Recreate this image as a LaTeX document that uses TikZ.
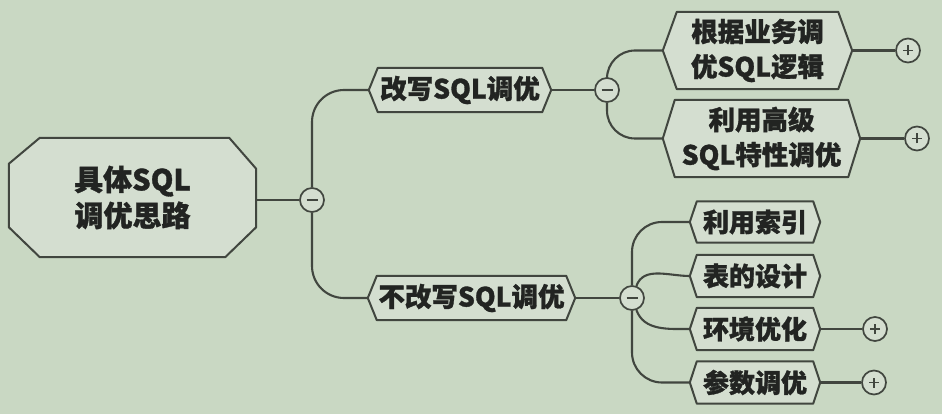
\documentclass[tikz,border=0pt]{standalone}
\usepackage{fontspec}
\newfontfamily\cjk{Noto Sans CJK SC}[BoldFeatures={FakeBold=1.2}]
\usetikzlibrary{backgrounds}
\definecolor{bg}{HTML}{C9D8C3}
\definecolor{nodefill}{HTML}{D4DED0}
\definecolor{ink}{HTML}{41463F}
\definecolor{txt}{HTML}{222422}
\begin{document}
\begin{tikzpicture}[x=1pt,y=-1pt,
  box/.style={draw=none, inner sep=0pt, align=center, text=txt,
    font=\cjk\bfseries\fontsize{26.5}{35}\selectfont},
  smallbox/.style={box, font=\cjk\bfseries\fontsize{26}{35}\selectfont},
  rootbox/.style={box, font=\cjk\bfseries\fontsize{29}{36}\selectfont},
  outline/.style={draw=ink, fill=nodefill, line width=2pt, line join=round},
  conn/.style={draw=ink, line width=2.1pt},
  toggle/.style={circle, draw=ink, line width=1.7pt, fill=nodefill, minimum size=24pt, inner sep=0pt},
  minusbtn/.style={toggle, path picture={\draw[ink, line width=2pt]
      ([xshift=-5.5pt]path picture bounding box.center) -- ([xshift=5.5pt]path picture bounding box.center);}},
  plusbtn/.style={toggle, path picture={\draw[ink, line width=1.6pt]
      ([xshift=-5pt]path picture bounding box.center) -- ([xshift=5pt]path picture bounding box.center)
      ([yshift=-5pt]path picture bounding box.center) -- ([yshift=5pt]path picture bounding box.center);}}
]
\useasboundingbox (0,0) rectangle (942,414);

% nodes (text)
\node[rootbox, minimum width=247pt, minimum height=119pt] (root) at (132.5,197.5) {具体SQL\\调优思路};
\node[box, minimum width=182pt, minimum height=44pt] (n1) at (460,90) {改写SQL调优};
\node[box, minimum width=207pt, minimum height=44pt] (n2) at (471.5,298) {不改写SQL调优};
\node[box, minimum width=189pt, minimum height=77pt] (n11) at (757.5,50.5) {根据业务调\\优SQL逻辑};
\node[box, minimum width=197pt, minimum height=77pt] (n12) at (761.5,138.5) {利用高级\\SQL特性调优};
\node[smallbox, minimum width=130pt, minimum height=41pt] (n21) at (755,222) {利用索引};
\node[smallbox, minimum width=130pt, minimum height=42pt] (n22) at (755,276) {表的设计};
\node[smallbox, minimum width=130pt, minimum height=42pt] (n23) at (755,329) {环境优化};
\node[smallbox, minimum width=130pt, minimum height=42pt] (n24) at (755,382.5) {参数调优};

% toggles
\node[minusbtn] (c1) at (312,200) {};
\node[minusbtn] (c2) at (607,90) {};
\node[minusbtn] (c3) at (632,298) {};
\node[plusbtn] (p11) at (908,50.5) {};
\node[plusbtn] (p12) at (917,138.5) {};
\node[plusbtn] (p23) at (875,329) {};
\node[plusbtn] (p24) at (874,382.5) {};

\begin{scope}[on background layer]
  \fill[bg] (0,0) rectangle (942,414);
  % connectors
  \draw[conn] (root.east |- c1.west) -- (c1.west);
  \draw[conn, rounded corners=32pt] (c1.north) |- (n1.west);
  \draw[conn, rounded corners=32pt] (c1.south) |- (n2.west);
  \draw[conn] (n1.east) -- (c2.west);
  \draw[conn, rounded corners=28pt] (c2.north) |- (n11.west);
  \draw[conn, rounded corners=28pt] (c2.south) |- (n12.west);
  \draw[conn] (n11.east) -- (p11.west);
  \draw[conn] (n12.east) -- (p12.west);
  \draw[conn] (n2.east) -- (c3.west);
  \draw[conn, rounded corners=30pt] (c3.north) |- (n21.west);
  \draw[conn] (c3.70) to[out=70, in=180] (n22.west);
  \draw[conn] (c3.-70) to[out=-70, in=180] (n23.west);
  \draw[conn, rounded corners=30pt] (c3.south) |- (n24.west);
  \draw[conn] (n23.east) -- (p23.west);
  \draw[conn] (n24.east) -- (p24.west);
  % root octagon
  \draw[outline] ([xshift=31pt]root.north west) -- ([xshift=-27pt]root.north east)
    -- ([yshift=-31pt]root.north east) -- ([yshift=30pt]root.south east)
    -- ([xshift=-31pt]root.south east) -- ([xshift=31pt]root.south west)
    -- ([yshift=30pt]root.south west) -- ([yshift=-26pt]root.north west) -- cycle;
  % hexagon boxes
  \foreach \n/\d in {n1/9pt, n2/9pt, n11/14pt, n12/12pt, n21/7pt, n22/7pt, n23/7pt, n24/7pt}
    \draw[outline] (\n.west) -- ([xshift=\d]\n.north west) -- ([xshift=-\d]\n.north east)
      -- (\n.east) -- ([xshift=-\d]\n.south east) -- ([xshift=\d]\n.south west) -- cycle;
\end{scope}
\end{tikzpicture}
\end{document}
